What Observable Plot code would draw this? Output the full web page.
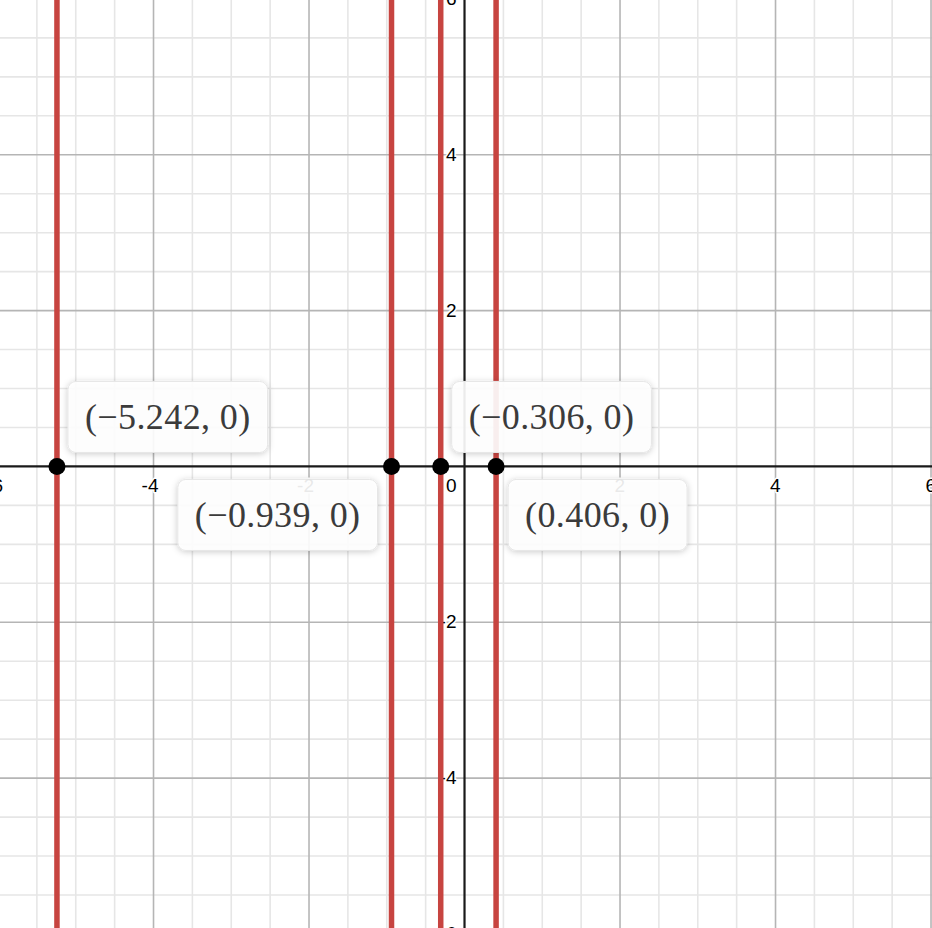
<!DOCTYPE html>
<html><head><meta charset="utf-8">
<script src="https://cdn.jsdelivr.net/npm/d3@7"></script>
<script src="https://cdn.jsdelivr.net/npm/@observablehq/plot@0.6"></script>
<style>
html,body{margin:0;padding:0;background:#fff;overflow:hidden;}
#chart svg{display:block;overflow:hidden;}
</style></head><body><div id="chart"></div>
<script>
// ---- data ----
const roots = [-5.242, -0.939, -0.306, 0.406];
const rootLabels = ["(−5.242, 0)", "(−0.939, 0)", "(−0.306, 0)", "(0.406, 0)"];
const xTickValues = [-6, -4, -2, 2, 4, 6];
const xTickLabels = ["-6", "-4", "-2", "2", "4", "6"];
const yTickValues = [-6, -4, -2, 2, 4, 6];
const yTickLabels = ["-6", "-4", "-2", "2", "4", "6"];
const originLabel = "0";

// ---- derived tables ----
const minorGrid = d3.range(-6, 6.001, 0.5).filter(v => Math.abs(v % 2) !== 0);
const majorGrid = xTickValues;
const xTicks = xTickValues.map((v, i) => ({v, label: xTickLabels[i]}));
const yTicks = yTickValues.map((v, i) => ({v, label: yTickLabels[i]}));
const placement = ["ne", "sw", "ne", "se"];
const points = roots.map((x, i) => ({x, y: 0, label: rootLabels[i], place: placement[i]}));

const tickFont = {fontSize: 19, fontFamily: "Liberation Sans, Arial, sans-serif", fill: "#000", stroke: "white", strokeWidth: 3};
const lblFont = {fontSize: 36, fontFamily: "Liberation Serif, Times New Roman, serif", fill: "#3b3b3b", ariaLabel: () => "root-label", lineAnchor: "middle"};

const plot = Plot.plot({
  width: 932,
  height: 928,
  margin: 0,
  x: {domain: [-5.968, 6.019], axis: null},
  y: {domain: [-5.93, 5.98], axis: null},
  style: {background: "white"},
  marks: [
    Plot.ruleX(minorGrid, {stroke: "#e6e6e6", strokeWidth: 1.6}),
    Plot.ruleY(minorGrid, {stroke: "#e6e6e6", strokeWidth: 1.6}),
    Plot.ruleX(majorGrid, {stroke: "#b5b5b5", strokeWidth: 1.6}),
    Plot.ruleY(majorGrid, {stroke: "#b5b5b5", strokeWidth: 1.6}),
    Plot.ruleX([0], {stroke: "#1a1a1a", strokeWidth: 2.2}),
    Plot.ruleY([0], {stroke: "#1a1a1a", strokeWidth: 2.2}),
    Plot.text(xTicks, {x: "v", y: () => 0, text: "label", textAnchor: "end", dx: 5, dy: 19, ...tickFont}),
    Plot.text(yTicks, {x: () => 0, y: "v", text: "label", textAnchor: "end", dx: -8, ...tickFont}),
    Plot.text([originLabel], {x: () => 0, y: () => 0, text: d => d, textAnchor: "end", dx: -8, dy: 19, ...tickFont}),
    Plot.ruleX(roots, {stroke: "#c74440", strokeWidth: 5.5}),
    Plot.dot(points, {x: "x", y: "y", r: 8.5, fill: "#000", stroke: "none"}),
    Plot.text(points.filter(d => d.place === "ne"), {x: "x", y: "y", text: "label", textAnchor: "start", dx: 28, dy: -49, ...lblFont}),
    Plot.text(points.filter(d => d.place === "sw"), {x: "x", y: "y", text: "label", textAnchor: "end", dx: -31, dy: 49, ...lblFont}),
    Plot.text(points.filter(d => d.place === "se"), {x: "x", y: "y", text: "label", textAnchor: "start", dx: 29, dy: 49, ...lblFont})
  ]
});

document.getElementById("chart").append(plot);

// label boxes behind the point labels
const ns = "http://www.w3.org/2000/svg";
const defs = document.createElementNS(ns, "defs");
defs.innerHTML = '<filter id="lblShadow" x="-20%" y="-40%" width="140%" height="180%"><feDropShadow dx="0" dy="1" stdDeviation="3" flood-color="#000" flood-opacity="0.22"/></filter>';
plot.prepend(defs);
plot.querySelectorAll('text[aria-label="root-label"]').forEach(t => {
  t.setAttribute("letter-spacing", "0.4");
  const b = t.getBBox();
  const padX = 17, h = 71;
  const r = document.createElementNS(ns, "rect");
  r.setAttribute("x", b.x - padX);
  r.setAttribute("y", b.y + b.height / 2 - h / 2);
  r.setAttribute("width", b.width + 2 * padX);
  r.setAttribute("height", h);
  r.setAttribute("rx", 8);
  r.setAttribute("fill", "white");
  r.setAttribute("fill-opacity", 0.9);
  r.setAttribute("stroke", "#e6e6e6");
  r.setAttribute("stroke-width", 1);
  r.setAttribute("filter", "url(#lblShadow)");
  if (t.getAttribute("transform")) r.setAttribute("transform", t.getAttribute("transform"));
  t.parentNode.insertBefore(r, t);
});
</script>
</body></html>
